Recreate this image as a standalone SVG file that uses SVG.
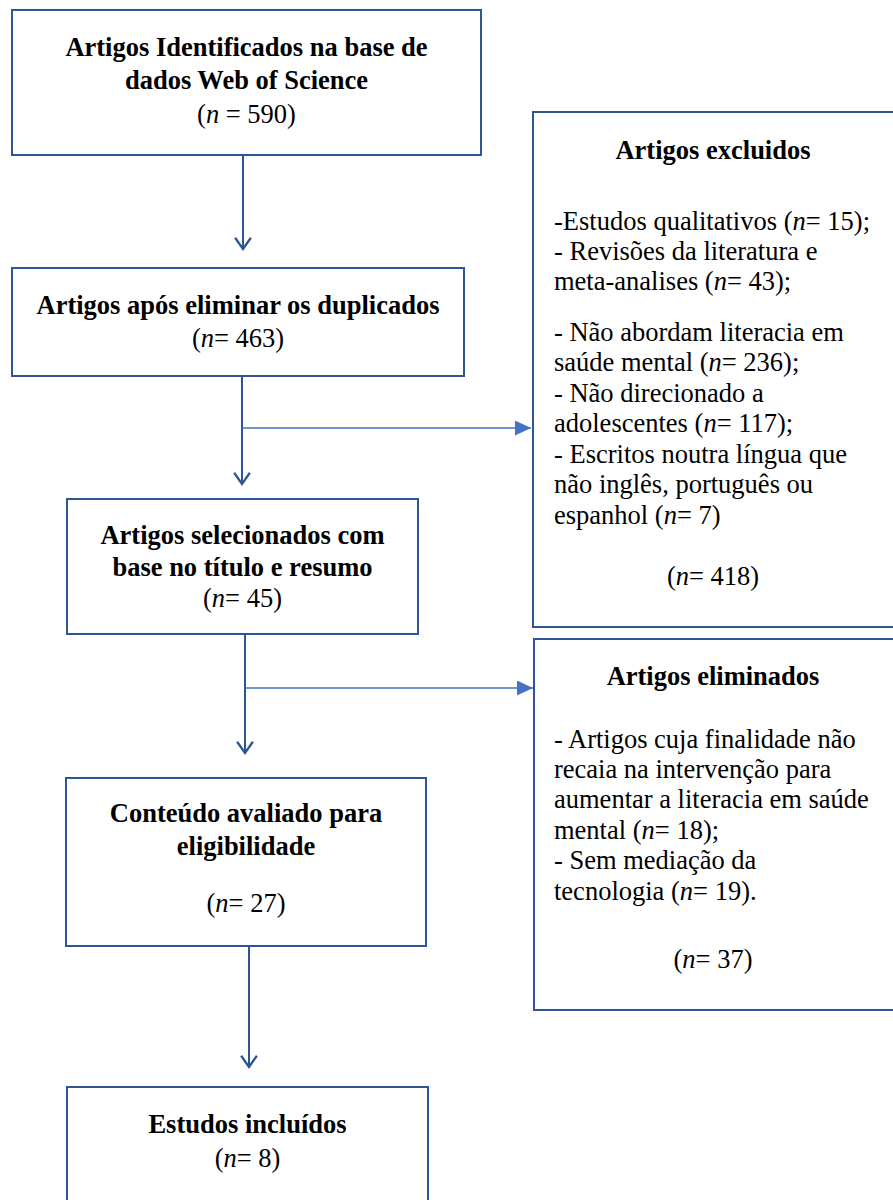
<svg xmlns="http://www.w3.org/2000/svg" width="893" height="1200" viewBox="0 0 893 1200">
<defs>
<style>
.box{fill:#ffffff;stroke:#2F5597;stroke-width:2}
.t{font-family:"Liberation Serif","Times New Roman",serif;font-size:26.5px;fill:#000}
.b{font-weight:bold}
.c{text-anchor:middle}
.i{font-style:italic}
.v{stroke:#2F5597;stroke-width:2;fill:none}
.h{stroke:#4472C4;stroke-width:1.5;fill:none}
</style>
<marker id="vee" markerUnits="userSpaceOnUse" markerWidth="16" markerHeight="18" viewBox="0 0 12 16" refX="11" refY="8" orient="auto">
<path d="M1,1 L11,8 L1,15" fill="none" stroke="#2F5597" stroke-width="2"/>
</marker>
<marker id="tri" markerUnits="userSpaceOnUse" markerWidth="16" markerHeight="15" viewBox="0 0 16 15" refX="16" refY="7.5" orient="auto">
<path d="M0,0 L16,7.5 L0,15 z" fill="#4472C4"/>
</marker>
</defs>

<g id="connectors">
<line class="v" x1="243" y1="155" x2="243" y2="249" marker-end="url(#vee)"/>
<line class="v" x1="242" y1="376" x2="242" y2="484" marker-end="url(#vee)"/>
<line class="h" x1="242" y1="428" x2="531" y2="428" marker-end="url(#tri)"/>
<line class="v" x1="245" y1="634" x2="245" y2="753" marker-end="url(#vee)"/>
<line class="h" x1="245" y1="688" x2="533" y2="688" marker-end="url(#tri)"/>
<line class="v" x1="249" y1="946" x2="249" y2="1067" marker-end="url(#vee)"/>
</g>

<g id="node-identificados">
<rect class="box" x="12" y="10" width="469" height="145"/>
<text class="t b c" x="246.5" y="56">Artigos Identificados na base de</text>
<text class="t b c" x="246.5" y="89">dados Web of Science</text>
<text class="t c" x="246.5" y="123">(<tspan class="i">n</tspan> = 590)</text>
</g>

<g id="node-duplicados">
<rect class="box" x="12" y="268" width="452" height="108"/>
<text class="t b c" x="238" y="314">Artigos após eliminar os duplicados</text>
<text class="t c" x="238" y="347">(<tspan class="i">n</tspan>= 463)</text>
</g>

<g id="node-selecionados">
<rect class="box" x="67" y="499" width="351" height="135"/>
<text class="t b c" x="242.5" y="544">Artigos selecionados com</text>
<text class="t b c" x="242.5" y="576">base no título e resumo</text>
<text class="t c" x="242.5" y="607">(<tspan class="i">n</tspan>= 45)</text>
</g>

<g id="node-conteudo">
<rect class="box" x="66" y="778" width="360" height="168"/>
<text class="t b c" x="246" y="822">Conteúdo avaliado para</text>
<text class="t b c" x="246" y="855">eligibilidade</text>
<text class="t c" x="246" y="912">(<tspan class="i">n</tspan>= 27)</text>
</g>

<g id="node-incluidos">
<rect class="box" x="67" y="1087" width="361" height="130"/>
<text class="t b c" x="247.5" y="1133">Estudos incluídos</text>
<text class="t c" x="247.5" y="1167">(<tspan class="i">n</tspan>= 8)</text>
</g>

<g id="node-excluidos">
<rect class="box" x="533" y="112" width="362" height="515"/>
<text class="t b c" x="713" y="159">Artigos excluidos</text>
<text class="t" x="554" y="230">-Estudos qualitativos (<tspan class="i">n</tspan>= 15);</text>
<text class="t" x="554" y="260">- Revisões da literatura e</text>
<text class="t" x="554" y="290">meta-analises (<tspan class="i">n</tspan>= 43);</text>
<text class="t" x="554" y="341">- Não abordam literacia em</text>
<text class="t" x="554" y="371">saúde mental (<tspan class="i">n</tspan>= 236);</text>
<text class="t" x="554" y="402">- Não direcionado a</text>
<text class="t" x="554" y="432">adolescentes (<tspan class="i">n</tspan>= 117);</text>
<text class="t" x="554" y="463">- Escritos noutra língua que</text>
<text class="t" x="554" y="493">não inglês, português ou</text>
<text class="t" x="554" y="524">espanhol (<tspan class="i">n</tspan>= 7)</text>
<text class="t c" x="713" y="585">(<tspan class="i">n</tspan>= 418)</text>
</g>

<g id="node-eliminados">
<rect class="box" x="534" y="639" width="361" height="371"/>
<text class="t b c" x="713" y="685">Artigos eliminados</text>
<text class="t" x="554" y="748">- Artigos cuja finalidade não</text>
<text class="t" x="554" y="778">recaia na intervenção para</text>
<text class="t" x="554" y="808">aumentar a literacia em saúde</text>
<text class="t" x="554" y="839">mental (<tspan class="i">n</tspan>= 18);</text>
<text class="t" x="554" y="869">- Sem mediação da</text>
<text class="t" x="554" y="900">tecnologia (<tspan class="i">n</tspan>= 19).</text>
<text class="t c" x="713" y="968">(<tspan class="i">n</tspan>= 37)</text>
</g>
</svg>
